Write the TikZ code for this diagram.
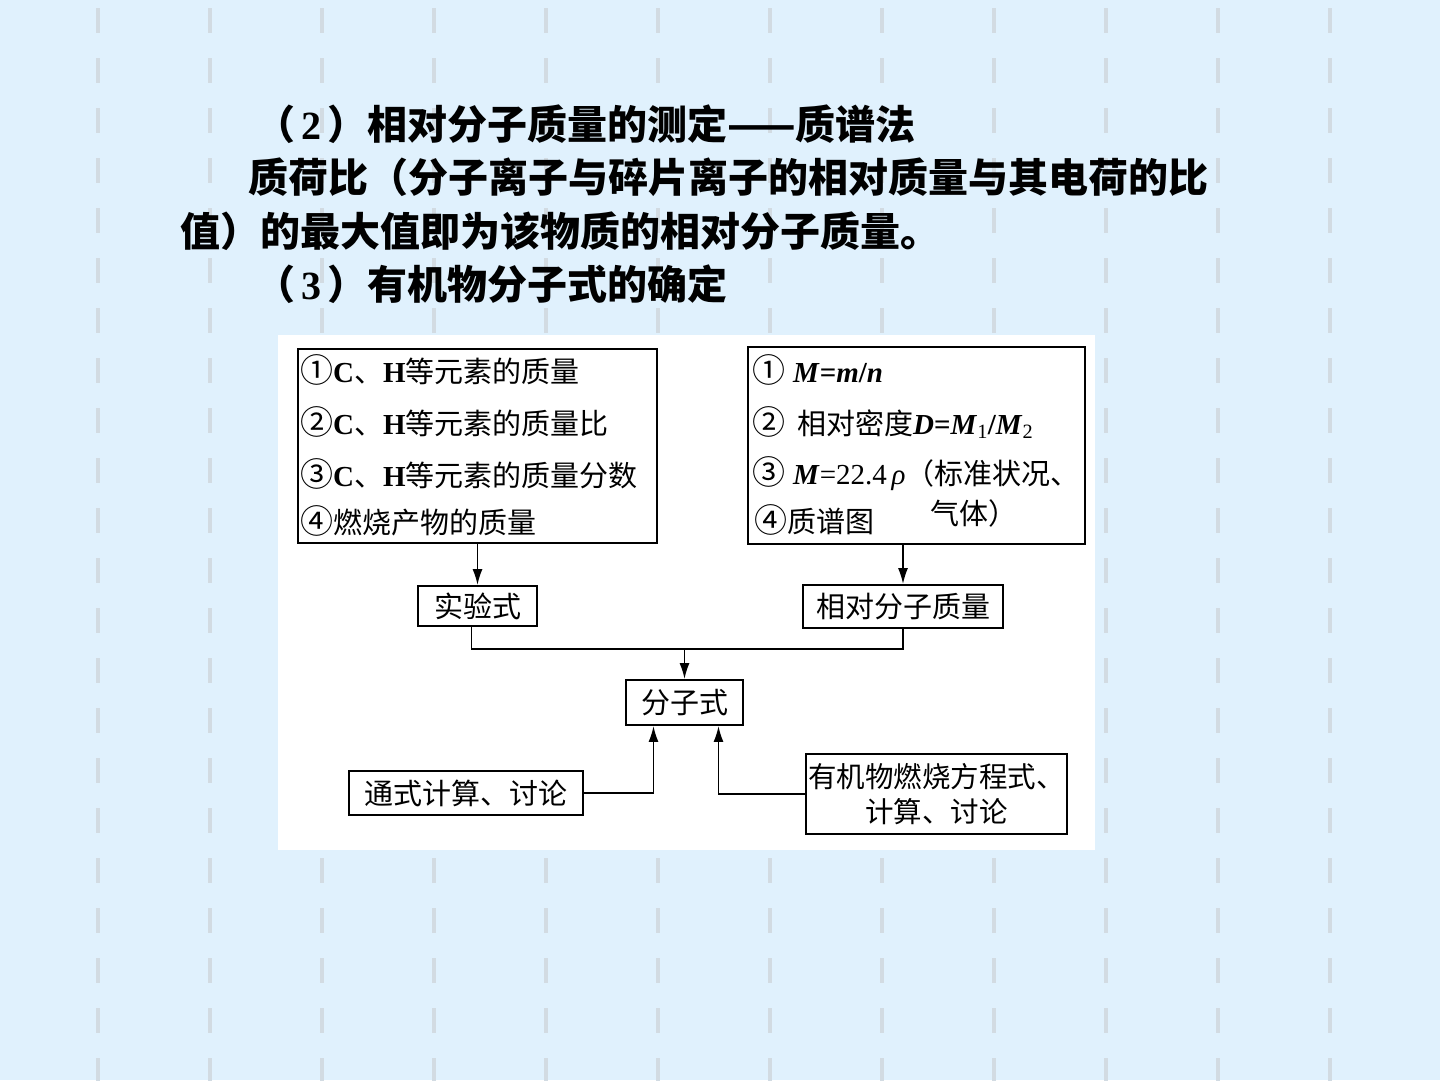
\documentclass[tikz,border=0pt]{standalone}
\usepackage{fontspec}
\setmainfont{Liberation Serif}
\newfontfamily\cjk{Noto Sans CJK SC}
\usetikzlibrary{arrows.meta,calc}
\definecolor{bgblue}{RGB}{224,241,253}
\definecolor{dashgray}{RGB}{210,219,226}
\newcommand{\circnum}[1]{{\fontsize{33}{35}\selectfont\cjk #1}}
\begin{document}
\begin{tikzpicture}[x=1pt,y=-1pt,
  box/.style={draw=black,line width=1.8pt,inner sep=0pt,fill=white,font=\fontsize{29}{35}\selectfont\cjk},
  lbl/.style={anchor=base west,inner sep=0pt,font=\fontsize{29}{35}\selectfont},
  ttl/.style={anchor=base west,inner sep=0pt,font=\fontsize{40}{48}\selectfont\bfseries},
  arr/.style={line width=1.7pt,-{Latex[length=16pt,width=10pt]}},
  ln/.style={line width=1.7pt}]
\useasboundingbox (0,0) rectangle (1440,1080);
\fill[bgblue] (0,0) rectangle (1440,1080);
\foreach \x in {98,210,...,1330} {
  \foreach \y in {8,58,...,1058} {
    \draw[dashgray,line width=4pt] (\x,\y) -- (\x,\y+25);
  }
}
% titles
\node[ttl] (t1) at (255,139) {{\cjk （}\hspace{6pt}2\hspace{6pt}{\cjk ）相对分子质量的测定——质谱法}};
\node[ttl] (t2) at (248,192) {{\cjk 质荷比（分子离子与碎片离子的相对质量与其电荷的比}};
\node[ttl] (t3) at (180,246) {{\cjk 值）的最大值即为该物质的相对分子质量。}};
\node[ttl] (t4) at (255,299) {{\cjk （}\hspace{6pt}3\hspace{6pt}{\cjk ）有机物分子式的确定}};
% white panel
\node[fill=white,inner sep=0pt,minimum width=817pt,minimum height=515pt] (panel) at (686.5,592.5) {};
% box A
\node[box,minimum width=359pt,minimum height=194pt] (A) at (477.5,446) {};
\node[lbl] (a1) at (300,382) {\circnum{①}\textbf{C}{\cjk 、}\textbf{H}{\cjk 等元素的质量}};
\node[lbl] (a2) at (300,434) {\circnum{②}\textbf{C}{\cjk 、}\textbf{H}{\cjk 等元素的质量比}};
\node[lbl] (a3) at (300,486) {\circnum{③}\textbf{C}{\cjk 、}\textbf{H}{\cjk 等元素的质量分数}};
\node[lbl] (a4) at (300,533) {\circnum{④}{\cjk 燃烧产物的质量}};
% box B
\node[box,minimum width=337pt,minimum height=197pt] (B) at (916.5,445.5) {};
\node[lbl] (b1) at (752,382) {\circnum{①}\hspace{8pt}\textbf{\textit{M}=\textit{m}/\textit{n}}};
\node[lbl] (b2) at (752,434) {\circnum{②}\hspace{12pt}{\cjk 相对密度}\textbf{\textit{D}=\textit{M}}\textsubscript{1}\textbf{/\textit{M}}\textsubscript{2}};
\node[lbl] (b3) at (752,484) {\circnum{③}\hspace{8pt}\textbf{\textit{M}}=22.4\,\textit{ρ}{\cjk （标准状况、}};
\node[lbl] (b4) at (754,532) {\circnum{④}{\cjk 质谱图}};
\node[lbl] (b5) at (930,524) {{\cjk 气体）}};
% small boxes
\node[box,minimum width=119pt,minimum height=40pt] (sy) at (477.5,606) {实验式};
\node[box,minimum width=200pt,minimum height=43pt] (rm) at (903,606.5) {相对分子质量};
\node[box,minimum width=117pt,minimum height=45pt] (fz) at (684.5,702.5) {分子式};
\node[box,minimum width=234pt,minimum height=44pt] (ts) at (466,793) {通式计算、讨论};
\node[box,minimum width=261pt,minimum height=80pt,align=center,font=\fontsize{28.5}{35}\selectfont\cjk] (yj) at (936.5,794) {有机物燃烧方程式、\\计算、讨论};
% connectors
\draw[arr] (A.south -| sy.north) -- (sy.north);
\draw[arr] (B.south -| rm.north) -- (rm.north);
\draw[ln] ($(sy.south)+(-6,0)$) -- ++(0,22) coordinate (j1) -| (rm.south);
\coordinate (j) at (fz.north |- j1);
\draw[arr] (j) -- (fz.north);
\draw[arr] (ts.east) -| ($(fz.south)+(-31,0)$);
\draw[arr] (yj.west) -| ($(fz.south)+(34,0)$);
\end{tikzpicture}
\end{document}
